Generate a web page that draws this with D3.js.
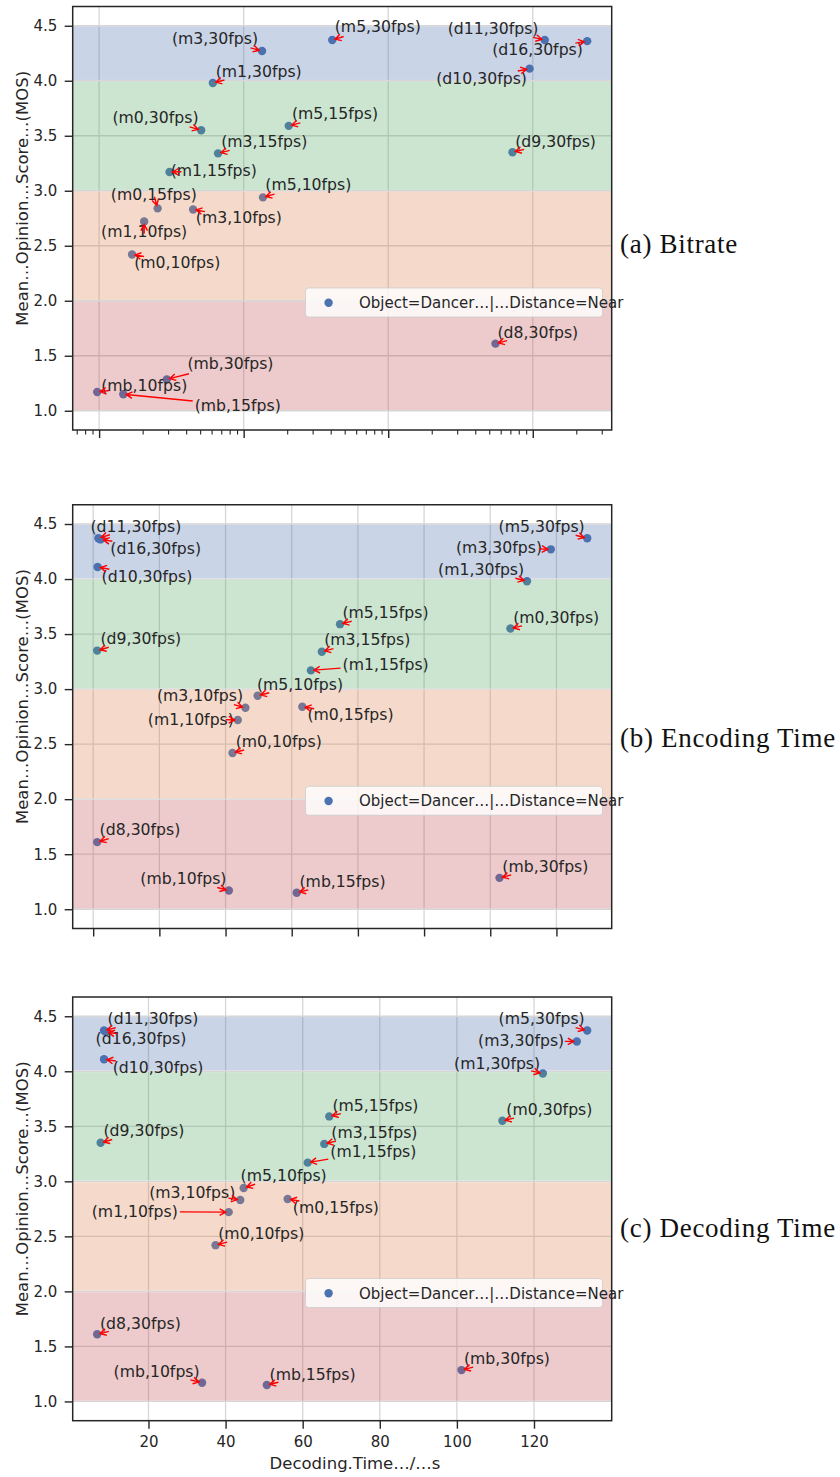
<!DOCTYPE html>
<html>
<head>
<meta charset="utf-8">
<title>MOS vs bitrate / encoding / decoding time</title>
<script src="https://cdn.jsdelivr.net/npm/d3@7"></script>
<style>
  body { margin: 0; background: #fff; }
  text { font-family: "DejaVu Sans", sans-serif; fill: #262626; }
  .cap { font-family: "Liberation Serif", serif; fill: #111; }
</style>
</head>
<body>
<script>
// ---- data ----
var configs    = ["mb,10fps","mb,15fps","mb,30fps","m0,10fps","m0,15fps","m0,30fps","m1,10fps","m1,15fps","m1,30fps",
                  "m3,10fps","m3,15fps","m3,30fps","m5,10fps","m5,15fps","m5,30fps","d8,30fps","d9,30fps","d10,30fps","d11,30fps","d16,30fps"];
var mos        = [1.17,1.15,1.285, 2.42,2.84,3.55, 2.72,3.17,3.98, 2.83,3.34,4.27, 2.94,3.59,4.37, 1.61,3.35,4.11,4.37,4.36];
var bitrate    = [0.097,0.147,0.294, 0.169,0.254,0.508, 0.205,0.307,0.612, 0.447,0.665,1.34, 1.36,2.05,4.10, 55.2,72.4,95,121,238];
var encodeTime = [41.0,61.5,122.8, 42.1,63.2,126.1, 43.7,65.8,131.1, 46.0,69.1,138.3, 49.7,74.6,149.3, 1.21,1.21,1.33,1.57,2.2];
var decodeTime = [33.9,50.7,101.2, 37.4,56.1,111.8, 40.8,61.3,122.3, 43.8,65.6,131.1, 44.7,66.9,133.8, 6.7,7.6,8.47,8.47,8.9];

var mosTicks     = [1.0,1.5,2.0,2.5,3.0,3.5,4.0,4.5];
var bandLow      = [1,2,3,4];
var bandHigh     = [2,3,4,4.5];
var bitrateTicks = [0.1,1,10,100];
var encodeTicks  = [0,20,40,60,80,100,120,140];
var decodeTicks  = [20,40,60,80,100,120];
var legendText   = "Object=Dancer…|…Distance=Near";
var yLabel       = "Mean…Opinion…Score…(MOS)";
var xLabel       = "Decoding.Time…/…s";
var captions     = ["(a) Bitrate","(b) Encoding Time","(c) Decoding Time"];

// ---- label placement (pixel offsets of each annotation from its point) ----
var place1 = {
  "m3,30fps":[-4,-7.5,"end"], "m5,30fps":[2.5,-8.5], "d11,30fps":[-6.3,-6.5,"end"], "d16,30fps":[-4.3,13.7,"end"],
  "d10,30fps":[-2.6,15,"end"], "d9,30fps":[2.7,-5.3], "m1,30fps":[2.8,-6.3], "m0,30fps":[-2.6,-7.7,"end"],
  "m5,15fps":[3.2,-6.4], "m3,15fps":[3.1,-6.3], "m1,15fps":[1.2,4.3], "m5,10fps":[2.3,-7.4],
  "m0,15fps":[-3.8,-8,"middle"], "m3,10fps":[2.7,13.7], "m1,10fps":[0,15,"middle"], "m0,10fps":[2.1,13],
  "d8,30fps":[2,-5.3], "mb,30fps":[20.6,-10.6], "mb,10fps":[4,-0.7], "mb,15fps":[71.4,16.6]
};
var place2 = {
  "d11,30fps":[-7.9,-6.3], "d16,30fps":[9.8,14.3], "d10,30fps":[4,15.3], "d9,30fps":[3.2,-7],
  "m5,30fps":[-2.5,-6.7,"end"], "m3,30fps":[-8.7,3.7,"end"], "m1,30fps":[-2.8,-6.4,"end"], "m0,30fps":[2.7,-5.3],
  "m5,15fps":[2.4,-6], "m3,15fps":[2.4,-6.4], "m1,15fps":[31.7,-0.3], "m5,10fps":[-0.7,-5.4],
  "m3,10fps":[-2.4,-7,"end"], "m1,10fps":[-3.9,4.6,"end"], "m0,15fps":[5.1,13.6], "m0,10fps":[3.2,-6.3],
  "d8,30fps":[2.4,-7.4], "mb,10fps":[-2.4,-6.3,"end"], "mb,15fps":[2.8,-5.7], "mb,30fps":[2.8,-6.3]
};
var place3 = {
  "d11,30fps":[3.6,-6.3], "d16,30fps":[-10.1,12.3], "d10,30fps":[8.7,13.7], "d9,30fps":[2.8,-7],
  "m5,30fps":[-2.5,-6.3,"end"], "m3,30fps":[-12.6,4.6,"end"], "m1,30fps":[-2.7,-4.6,"end"], "m0,30fps":[3.9,-5.4],
  "m5,15fps":[3.1,-5.7], "m3,15fps":[7.1,-6.3], "m1,15fps":[22.6,-5.7], "m5,10fps":[-3.1,-7.4],
  "m3,10fps":[-4.9,-2.3,"end"], "m0,15fps":[5.2,14], "m1,10fps":[-50.8,5,"end"], "m0,10fps":[2.7,-6.3],
  "d8,30fps":[2.8,-5.6], "mb,10fps":[-2.4,-5.7,"end"], "mb,15fps":[2.7,-5], "mb,30fps":[2.4,-6.3]
};

var width = 840, height = 1477;
var X0 = 72.7, X1 = 611.7;
var bandColors = ["#c44e52","#dd8452","#55a868","#4c72b0"];
var dotColor = "#4c72b0";

var panels = [
  {top:6.5,    bottom:430,    values:bitrate,    log:true, ticks:bitrateTicks, labels:false, place:place1, capY:253},
  {top:504.75, bottom:928.5,  values:encodeTime, ticks:encodeTicks,  labels:false, place:place2, capY:747},
  {top:997,    bottom:1420.7, values:decodeTime, ticks:decodeTicks,  labels:true,  place:place3, capY:1237}
];

function padExtent(ext, f) {
  var r = ext[1] - ext[0];
  return [ext[0] - r * f, ext[1] + r * f];
}

var svg = d3.select("body").append("svg").attr("width", width).attr("height", height);
svg.append("rect").attr("width", width).attr("height", height).attr("fill", "#fff");
var defs = svg.append("defs");

panels.forEach(function (p, i) {
  var y = d3.scaleLinear()
    .domain(padExtent([d3.min(bandLow), d3.max(bandHigh)], 0.05))
    .range([p.bottom, p.top]);
  var x;
  if (p.log) {
    var le = padExtent(d3.extent(p.values).map(Math.log10), 0.05);
    x = d3.scaleLog().domain(le.map(function (v) { return Math.pow(10, v); })).range([X0, X1]);
  } else {
    x = d3.scaleLinear().domain(padExtent(d3.extent(p.values), 0.05)).range([X0, X1]);
  }

  defs.append("clipPath").attr("id", "clip" + i)
    .append("rect").attr("x", X0).attr("y", p.top).attr("width", X1 - X0).attr("height", p.bottom - p.top);

  var g = svg.append("g");
  var plot = g.append("g").attr("clip-path", "url(#clip" + i + ")");

  // grid
  plot.selectAll("line.gx").data(p.ticks).join("line").attr("class", "gx")
    .attr("x1", function (d) { return x(d); }).attr("x2", function (d) { return x(d); })
    .attr("y1", p.top).attr("y2", p.bottom)
    .attr("stroke", "#d6d6d6").attr("stroke-width", 1.3);
  plot.selectAll("line.gy").data(mosTicks).join("line").attr("class", "gy")
    .attr("x1", X0).attr("x2", X1)
    .attr("y1", function (d) { return y(d); }).attr("y2", function (d) { return y(d); })
    .attr("stroke", "#d6d6d6").attr("stroke-width", 1.3);

  var pts = configs.map(function (c, j) { return {c: c, v: p.values[j], m: mos[j]}; });

  // scatter
  plot.selectAll("circle").data(pts).join("circle")
    .attr("cx", function (d) { return x(d.v); })
    .attr("cy", function (d) { return y(d.m); })
    .attr("r", 4.2).attr("fill", dotColor);

  // quality bands drawn over the dots
  plot.selectAll("rect.band").data(bandLow.map(function (lo, k) { return {lo: lo, hi: bandHigh[k], color: bandColors[k]}; }))
    .join("rect").attr("class", "band")
    .attr("x", X0).attr("width", X1 - X0)
    .attr("y", function (d) { return y(d.hi) + 0.8; })
    .attr("height", function (d) { return y(d.lo) - y(d.hi) - 1.6; })
    .attr("fill", function (d) { return d.color; }).attr("fill-opacity", 0.3);

  // axes
  var ya = g.append("g").attr("transform", "translate(" + X0 + ",0)")
    .call(d3.axisLeft(y).tickValues(mosTicks).tickFormat(d3.format(".1f")).tickSize(8).tickPadding(7.4).tickSizeOuter(0));
  var xa = g.append("g").attr("transform", "translate(0," + p.bottom + ")")
    .call(d3.axisBottom(x).tickValues(p.ticks).tickSize(8).tickPadding(7.6).tickSizeOuter(0)
      .tickFormat(p.labels ? d3.format("d") : function () { return ""; }));
  if (p.log) {
    var dom = x.domain(), minors = [];
    for (var e = -3; e <= 3; e++) for (var k = 2; k <= 9; k++) {
      var v = k * Math.pow(10, e);
      if (v > dom[0] && v < dom[1]) minors.push(v);
    }
    g.append("g").attr("transform", "translate(0," + p.bottom + ")")
      .call(d3.axisBottom(x).tickValues(minors).tickSize(4.5).tickSizeOuter(0).tickFormat(function () { return ""; }))
      .call(function (s) { s.select(".domain").remove(); s.selectAll("line").attr("stroke", "#262626").attr("stroke-width", 1.1); });
  }
  [ya, xa].forEach(function (a) {
    a.select(".domain").remove();
    a.selectAll("line").attr("stroke", "#262626").attr("stroke-width", 1.4);
    a.selectAll("text").attr("font-size", 15).attr("font-family", "DejaVu Sans").attr("fill", "#262626");
  });

  // spines
  g.append("rect").attr("x", X0).attr("y", p.top).attr("width", X1 - X0).attr("height", p.bottom - p.top)
    .attr("fill", "none").attr("stroke", "#262626").attr("stroke-width", 1.5);

  // annotations with red arrows
  var ann = g.append("g");
  pts.forEach(function (d) {
    var pl = p.place[d.c] || [3, -6];
    var px = x(d.v), py = y(d.m);
    var t = ann.append("text")
      .attr("x", px + pl[0]).attr("y", py + pl[1])
      .attr("text-anchor", pl[2] || "start")
      .attr("font-size", 15.7)
      .text("(" + d.c + ")");
    var b = t.node().getBBox(), pad = 2;
    var bx0 = b.x - pad, bx1 = b.x + b.width + pad, by0 = b.y + 1 - pad, by1 = b.y + b.height - 1 + pad;
    var cx = (bx0 + bx1) / 2, cy = (by0 + by1) / 2;
    var dx = px - cx, dy = py - cy, tt = Infinity;
    if (dx > 0) tt = Math.min(tt, (bx1 - cx) / dx);
    if (dx < 0) tt = Math.min(tt, (bx0 - cx) / dx);
    if (dy > 0) tt = Math.min(tt, (by1 - cy) / dy);
    if (dy < 0) tt = Math.min(tt, (by0 - cy) / dy);
    var len = Math.hypot(dx, dy), ux = -dx / len, uy = -dy / len;   // unit vector point -> text
    var ex = px + ux * 3, ey = py + uy * 3;
    var sx = cx + dx * tt, sy = cy + dy * tt;
    if (tt >= 1 || Math.hypot(sx - ex, sy - ey) < 9) { sx = ex + ux * 9; sy = ey + uy * 9; }
    var vx = ex - sx, vy = ey - sy, vl = Math.hypot(vx, vy);
    vx /= vl; vy /= vl;
    var hl = 6, hw = 3.3;
    var h1 = [ex - vx * hl - vy * hw, ey - vy * hl + vx * hw];
    var h2 = [ex - vx * hl + vy * hw, ey - vy * hl - vx * hw];
    ann.append("path")
      .attr("d", "M" + sx + "," + sy + "L" + ex + "," + ey + "M" + h1 + "L" + ex + "," + ey + "L" + h2)
      .attr("fill", "none").attr("stroke", "#ff0000").attr("stroke-width", 1.4);
  });

  // legend
  var ly = p.top + 281.5;
  var leg = g.append("g");
  leg.append("rect").attr("x", 305.5).attr("y", ly).attr("width", 297).attr("height", 29).attr("rx", 3)
    .attr("fill", "#fff").attr("fill-opacity", 0.8).attr("stroke", "#cccccc").attr("stroke-opacity", 0.8);
  leg.append("circle").attr("cx", 328.6).attr("cy", ly + 14.7).attr("r", 4.2).attr("fill", dotColor);
  leg.append("text").attr("x", 359).attr("y", ly + 20).attr("font-size", 15).text(legendText);

  // axis labels
  g.append("text")
    .attr("transform", "translate(27.5," + ((p.top + p.bottom) / 2 - 20) + ") rotate(-90)")
    .attr("text-anchor", "middle").attr("font-size", 16.5).text(yLabel);
  if (p.labels) {
    g.append("text").attr("x", 355).attr("y", 1469).attr("text-anchor", "middle")
      .attr("font-size", 16.5).text(xLabel);
  }

  // sub-caption
  g.append("text").attr("class", "cap").attr("x", 620).attr("y", p.capY)
    .attr("font-size", 27).attr("letter-spacing", 0.7).text(captions[i]);
});
</script>
</body>
</html>
